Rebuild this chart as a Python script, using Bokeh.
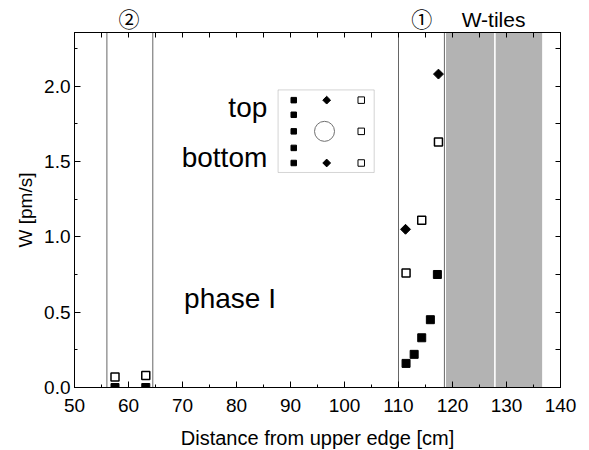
import math
from bokeh.plotting import figure
from bokeh.models import (Range1d, LinearAxis, SingleIntervalTicker, FixedTicker,
                          Span, BoxAnnotation, Label, PrintfTickFormatter)
from bokeh.embed import file_html
from bokeh.resources import INLINE

# ---- data ----
filled_x = [57.5, 63.2, 111.4, 112.9, 114.3, 115.9, 117.2]
filled_y = [0.0, 0.0, 0.16, 0.22, 0.33, 0.45, 0.75]
open_x = [57.5, 63.2, 111.4, 114.3, 117.4]
open_y = [0.07, 0.08, 0.76, 1.11, 1.63]
diamond_x = [111.3, 117.4]
diamond_y = [1.05, 2.08]

region_lines = [56.0, 64.5, 110.0, 118.5]
tile_left = [118.8, 128.0]
tile_right = [127.7, 136.6]

# labels above the plot
top_label_x = [60.1, 114.3, 127.6]
top_label_text = ["②", "①", "W-tiles"]

# schematic inset (probe head layout)
inset_box = dict(left=87.7, right=105.5, bottom=1.427, top=1.975)
inset_filled_x = [90.6, 90.6, 90.6, 90.6, 90.6]
inset_filled_y = [1.907, 1.81, 1.70, 1.59, 1.49]
inset_diamond_x = [96.7, 96.7]
inset_diamond_y = [1.907, 1.49]
inset_open_x = [103.1, 103.1, 103.1]
inset_open_y = [1.907, 1.70, 1.49]
inset_circle_x = [96.3]
inset_circle_y = [1.70]

FONT = "Liberation Sans"

p = figure(frame_width=486, frame_height=355,
           x_range=Range1d(50, 140), y_range=Range1d(0, 2.356),
           output_backend="svg", toolbar_location=None,
           min_border_left=74, min_border_right=25,
           min_border_top=32, min_border_bottom=60,
           background_fill_color="white", border_fill_color="white")
p.grid.visible = False
p.outline_line_color = "black"
p.outline_line_width = 1

def style_axis(ax):
    ax.major_tick_in = 6
    ax.major_tick_out = 0
    ax.minor_tick_in = 3
    ax.minor_tick_out = 0
    ax.axis_line_color = "black"
    ax.major_tick_line_color = "black"
    ax.minor_tick_line_color = "black"
    ax.major_label_text_font = FONT
    ax.major_label_text_font_size = "19px"
    ax.major_label_text_color = "black"
    ax.axis_label_text_font = FONT
    ax.axis_label_text_font_style = "normal"
    ax.axis_label_text_color = "black"

p.xaxis.ticker = SingleIntervalTicker(interval=10, num_minor_ticks=2)
p.yaxis.ticker = SingleIntervalTicker(interval=0.5, num_minor_ticks=2)
p.yaxis.formatter = PrintfTickFormatter(format="%.1f")
p.xaxis.axis_label = "Distance from upper edge [cm]"
p.yaxis.axis_label = "W [pm/s]"
style_axis(p.xaxis[0])
style_axis(p.yaxis[0])
p.xaxis.axis_label_text_font_size = "20px"
p.yaxis.axis_label_text_font_size = "19px"
p.xaxis.major_label_standoff = 11
p.yaxis.major_label_standoff = 4
p.xaxis.axis_label_standoff = 12
p.yaxis.axis_label_standoff = 5

# top axis: inward ticks + the region labels
top_minor = [50 + 5 * i for i in range(19)]
top_ax = LinearAxis(ticker=FixedTicker(ticks=top_label_x, minor_ticks=top_minor))
style_axis(top_ax)
top_ax.major_tick_line_color = None
top_ax.minor_tick_in = 5
top_ax.major_label_overrides = {x: t for x, t in zip(top_label_x, top_label_text)}
top_ax.major_label_text_font = "Liberation Sans, Noto Sans CJK JP"
top_ax.major_label_text_font_size = "21px"
top_ax.major_label_standoff = 2
p.add_layout(top_ax, "above")

# right axis: inward ticks only
right_minor = [0.25 * i for i in range(10)]
right_ax = LinearAxis(ticker=FixedTicker(ticks=[], minor_ticks=right_minor))
style_axis(right_ax)
right_ax.minor_tick_in = 5
p.add_layout(right_ax, "right")

# W-tiles shaded region
for l, r in zip(tile_left, tile_right):
    p.add_layout(BoxAnnotation(left=l, right=r, fill_color="#b3b3b3",
                               fill_alpha=1.0, line_color=None, level="underlay"))

for loc in region_lines:
    p.add_layout(Span(location=loc, dimension="height", line_color="#666666",
                      line_width=1, level="underlay"))

# data
p.scatter(filled_x, filled_y, marker="square", size=8, fill_color="black",
          line_color="black")
p.scatter(open_x, open_y, marker="square", size=8, fill_color="white",
          line_color="black", line_width=1.5)
p.scatter(diamond_x, diamond_y, marker="square", size=7, angle=math.pi / 4,
          fill_color="black", line_color="black")

# inset schematic
p.add_layout(BoxAnnotation(left=inset_box["left"], right=inset_box["right"],
                           bottom=inset_box["bottom"], top=inset_box["top"],
                           fill_color=None, line_color="#707070", line_width=1))
p.scatter(inset_filled_x, inset_filled_y, marker="square", size=5.5,
          fill_color="black", line_color="black")
p.scatter(inset_diamond_x, inset_diamond_y, marker="square", size=5.5,
          angle=math.pi / 4, fill_color="black", line_color="black")
p.scatter(inset_open_x, inset_open_y, marker="square", size=6.5,
          fill_color="white", line_color="black", line_width=1)
p.scatter(inset_circle_x, inset_circle_y, marker="circle", size=20,
          fill_color=None, line_color="#707070", line_width=1)

# texts inside the frame
def lab(x, y, t, size, align="center", base="middle", font=FONT):
    p.add_layout(Label(x=x, y=y, text=t, text_font=font, text_font_size=size,
                       text_align=align, text_baseline=base, text_color="black"))

lab(85.7, 1.856, "top", "28px", align="right", base="alphabetic")
lab(85.7, 1.524, "bottom", "28px", align="right", base="alphabetic")
lab(70.3, 0.588, "phase I", "28px", align="left", base="alphabetic")

open("out.html", "w").write(file_html(p, INLINE))
